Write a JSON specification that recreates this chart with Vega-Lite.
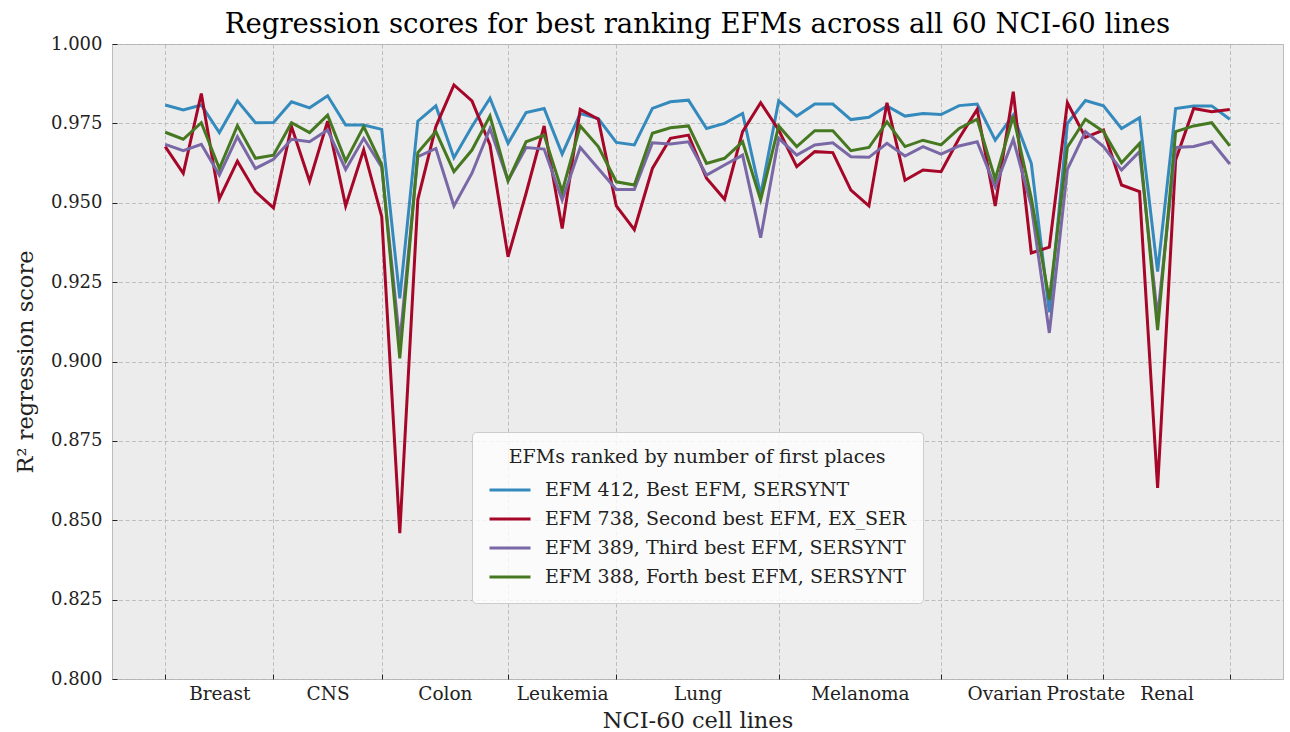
{
  "$schema": "https://vega.github.io/schema/vega-lite/v6.json",
  "width": 1171,
  "height": 635,
  "autosize": {"type": "none"},
  "padding": {"left": 112, "top": 44, "right": 7, "bottom": 53},
  "background": "#ffffff",
  "config": {
    "font": "DejaVu Serif",
    "view": {"fill": "#ececec", "stroke": "#bcbcbc", "strokeWidth": 1},
    "title": {"font": "DejaVu Serif", "fontSize": 27.5, "fontWeight": "normal", "color": "#000000", "offset": -3},
    "axis": {"labelFont": "DejaVu Serif", "titleFont": "DejaVu Serif", "labelColor": "#222222", "titleColor": "#222222", "titleFontWeight": "normal", "domain": false, "gridColor": "#b2b2b2", "gridDash": [4, 2.5], "gridWidth": 0.8, "tickColor": "#222222", "tickWidth": 1}
  },
  "title": "Regression scores for best ranking EFMs across all 60 NCI-60 lines",
  "data": {"values": [
    {"i":0,"a":0.9808,"b":0.9677,"c":0.9684,"d":0.9722},
    {"i":1,"a":0.9792,"b":0.9593,"c":0.9664,"d":0.9700},
    {"i":2,"a":0.9808,"b":0.9844,"c":0.9684,"d":0.9752},
    {"i":3,"a":0.9721,"b":0.9512,"c":0.9587,"d":0.9608},
    {"i":4,"a":0.9821,"b":0.9631,"c":0.9708,"d":0.9743},
    {"i":5,"a":0.9752,"b":0.9535,"c":0.9608,"d":0.9640},
    {"i":6,"a":0.9753,"b":0.9484,"c":0.9637,"d":0.9650},
    {"i":7,"a":0.9818,"b":0.9740,"c":0.9700,"d":0.9752},
    {"i":8,"a":0.9799,"b":0.9568,"c":0.9692,"d":0.9721},
    {"i":9,"a":0.9837,"b":0.9757,"c":0.9729,"d":0.9776},
    {"i":10,"a":0.9745,"b":0.9490,"c":0.9605,"d":0.9631},
    {"i":11,"a":0.9745,"b":0.9667,"c":0.9703,"d":0.9740},
    {"i":12,"a":0.9731,"b":0.9456,"c":0.9612,"d":0.9620},
    {"i":13,"a":0.9199,"b":0.8459,"c":0.9060,"d":0.9010},
    {"i":14,"a":0.9757,"b":0.9510,"c":0.9645,"d":0.9658},
    {"i":15,"a":0.9805,"b":0.9740,"c":0.9671,"d":0.9724},
    {"i":16,"a":0.9642,"b":0.9871,"c":0.9490,"d":0.9598},
    {"i":17,"a":0.9740,"b":0.9821,"c":0.9593,"d":0.9666},
    {"i":18,"a":0.9829,"b":0.9682,"c":0.9734,"d":0.9773},
    {"i":19,"a":0.9687,"b":0.9330,"c":0.9570,"d":0.9569},
    {"i":20,"a":0.9784,"b":0.9530,"c":0.9674,"d":0.9692},
    {"i":21,"a":0.9797,"b":0.9742,"c":0.9669,"d":0.9713},
    {"i":22,"a":0.9653,"b":0.9419,"c":0.9509,"d":0.9535},
    {"i":23,"a":0.9781,"b":0.9794,"c":0.9674,"d":0.9742},
    {"i":24,"a":0.9765,"b":0.9763,"c":0.9608,"d":0.9677},
    {"i":25,"a":0.9690,"b":0.9490,"c":0.9542,"d":0.9566},
    {"i":26,"a":0.9682,"b":0.9415,"c":0.9542,"d":0.9556},
    {"i":27,"a":0.9797,"b":0.9608,"c":0.9689,"d":0.9719},
    {"i":28,"a":0.9818,"b":0.9703,"c":0.9685,"d":0.9736},
    {"i":29,"a":0.9823,"b":0.9713,"c":0.9692,"d":0.9742},
    {"i":30,"a":0.9734,"b":0.9577,"c":0.9587,"d":0.9624},
    {"i":31,"a":0.9750,"b":0.9511,"c":0.9619,"d":0.9640},
    {"i":32,"a":0.9781,"b":0.9724,"c":0.9650,"d":0.9692},
    {"i":33,"a":0.9525,"b":0.9815,"c":0.9390,"d":0.9509},
    {"i":34,"a":0.9821,"b":0.9729,"c":0.9703,"d":0.9742},
    {"i":35,"a":0.9773,"b":0.9614,"c":0.9650,"d":0.9677},
    {"i":36,"a":0.9811,"b":0.9661,"c":0.9682,"d":0.9727},
    {"i":37,"a":0.9811,"b":0.9658,"c":0.9689,"d":0.9727},
    {"i":38,"a":0.9762,"b":0.9540,"c":0.9645,"d":0.9664},
    {"i":39,"a":0.9769,"b":0.9490,"c":0.9643,"d":0.9674},
    {"i":40,"a":0.9805,"b":0.9815,"c":0.9687,"d":0.9755},
    {"i":41,"a":0.9773,"b":0.9571,"c":0.9647,"d":0.9677},
    {"i":42,"a":0.9781,"b":0.9603,"c":0.9677,"d":0.9697},
    {"i":43,"a":0.9778,"b":0.9598,"c":0.9653,"d":0.9682},
    {"i":44,"a":0.9806,"b":0.9703,"c":0.9679,"d":0.9734},
    {"i":45,"a":0.9811,"b":0.9794,"c":0.9692,"d":0.9763},
    {"i":46,"a":0.9697,"b":0.9490,"c":0.9550,"d":0.9574},
    {"i":47,"a":0.9776,"b":0.9850,"c":0.9700,"d":0.9773},
    {"i":48,"a":0.9624,"b":0.9342,"c":0.9490,"d":0.9515},
    {"i":49,"a":0.9155,"b":0.9360,"c":0.9090,"d":0.9194},
    {"i":50,"a":0.9750,"b":0.9815,"c":0.9605,"d":0.9675},
    {"i":51,"a":0.9822,"b":0.9706,"c":0.9724,"d":0.9763},
    {"i":52,"a":0.9805,"b":0.9729,"c":0.9677,"d":0.9724},
    {"i":53,"a":0.9734,"b":0.9556,"c":0.9603,"d":0.9626},
    {"i":54,"a":0.9768,"b":0.9535,"c":0.9661,"d":0.9687},
    {"i":55,"a":0.9283,"b":0.8602,"c":0.9140,"d":0.9099},
    {"i":56,"a":0.9797,"b":0.9635,"c":0.9674,"d":0.9724},
    {"i":57,"a":0.9805,"b":0.9797,"c":0.9677,"d":0.9742},
    {"i":58,"a":0.9805,"b":0.9787,"c":0.9692,"d":0.9752},
    {"i":59,"a":0.9763,"b":0.9794,"c":0.9622,"d":0.9679}
  ]},
  "transform": [{"fold": ["a", "b", "c", "d"], "as": ["s", "v"]}],
  "mark": {"type": "line", "strokeWidth": 3, "strokeCap": "butt", "strokeJoin": "miter"},
  "encoding": {
    "x": {
      "field": "i", "type": "quantitative",
      "scale": {"domain": [-2.95, 61.95], "nice": false, "zero": false},
      "axis": {
        "title": "NCI-60 cell lines", "titleFontSize": 22.5, "titlePadding": 7,
        "values": [0, 3, 6, 9, 12, 15.5, 19, 22, 25, 29.5, 34, 38.5, 43, 46.5, 50, 51, 52, 55.5, 59],
        "labelExpr": "datum.value == 3 ? 'Breast' : datum.value == 9 ? 'CNS' : datum.value == 15.5 ? 'Colon' : datum.value == 22 ? 'Leukemia' : datum.value == 29.5 ? 'Lung' : datum.value == 38.5 ? 'Melanoma' : datum.value == 46.5 ? 'Ovarian' : datum.value == 51 ? 'Prostate' : datum.value == 55.5 ? 'Renal' : ''",
        "labelFontSize": 18.5, "labelOverlap": false, "labelBound": false, "labelFlush": false,
        "tickSize": -5, "labelPadding": 10,
        "gridOpacity": {"condition": {"test": "indexof([0,6,12,19,25,34,43,50,52,59], datum.value) >= 0", "value": 1}, "value": 0},
        "tickOpacity": {"condition": {"test": "indexof([0,6,12,19,25,34,43,50,52,59], datum.value) >= 0", "value": 1}, "value": 0}
      }
    },
    "y": {
      "field": "v", "type": "quantitative",
      "scale": {"domain": [0.8, 1.0], "nice": false, "zero": false},
      "axis": {
        "title": "R² regression score", "titleFontSize": 22.5, "titlePadding": 13,
        "values": [0.8, 0.825, 0.85, 0.875, 0.9, 0.925, 0.95, 0.975, 1.0],
        "format": ".3f", "labelFontSize": 18, "tickSize": -5, "labelPadding": 15
      }
    },
    "color": {
      "field": "s", "type": "nominal",
      "scale": {"domain": ["a", "b", "c", "d"], "range": ["#348ABD", "#A60628", "#7A68A6", "#467821"]},
      "legend": {
        "title": "EFMs ranked by number of first places",
        "labelExpr": "datum.label == 'a' ? 'EFM 412, Best EFM, SERSYNT' : datum.label == 'b' ? 'EFM 738, Second best EFM, EX_SER' : datum.label == 'c' ? 'EFM 389, Third best EFM, SERSYNT' : 'EFM 388, Forth best EFM, SERSYNT'",
        "orient": "none", "legendX": 360, "legendY": 388,
        "padding": 16, "fillColor": "rgba(255,255,255,0.8)", "strokeColor": "#cccccc", "cornerRadius": 4,
        "titleFont": "DejaVu Serif", "titleFontSize": 19, "titleFontWeight": "normal", "titleColor": "#222222", "titleAnchor": "middle", "titlePadding": 4, "titleLimit": 0,
        "labelFont": "DejaVu Serif", "labelFontSize": 19, "labelColor": "#222222", "labelOffset": 19, "labelLimit": 0,
        "symbolType": "M-1,0H1.343", "symbolSize": 1225, "symbolStrokeWidth": 3, "rowPadding": 0
      }
    }
  }
}
